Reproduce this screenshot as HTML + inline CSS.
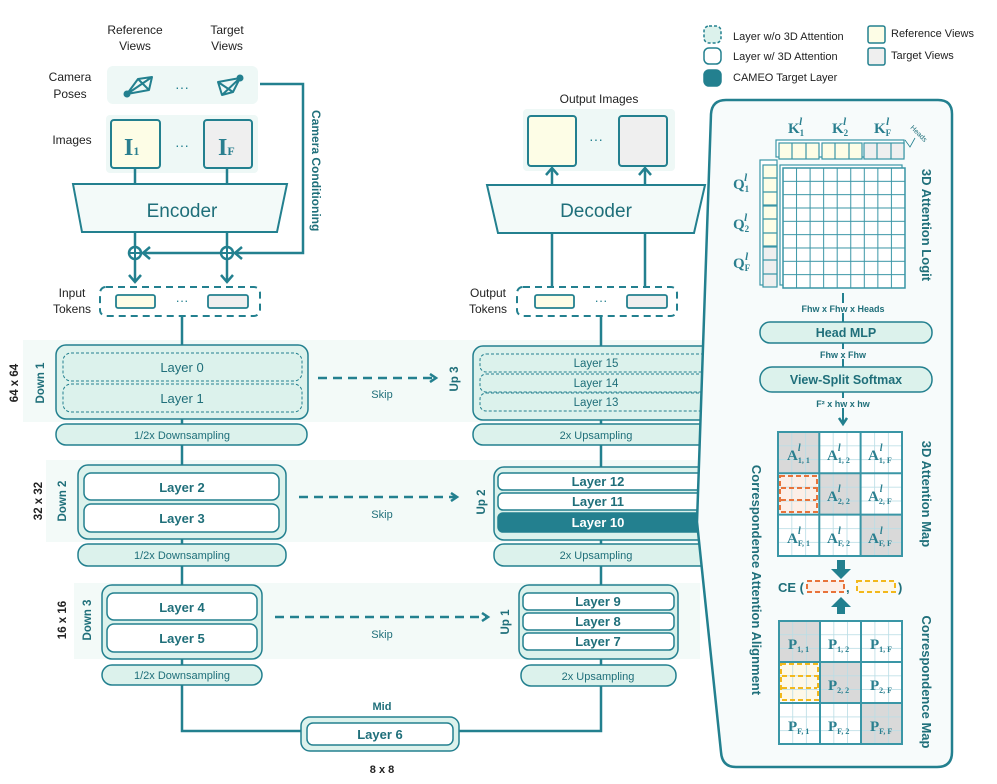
<!DOCTYPE html>
<html><head><meta charset="utf-8"><style>
html,body{margin:0;padding:0;background:#fff}
svg{display:block}
text{font-family:"Liberation Sans",sans-serif}
.t{fill:#1f6f7a}
.k{fill:#222}
.b{font-weight:bold}
text.s,.s text{font-family:"Liberation Serif",serif;font-weight:bold;fill:#2a7f8f}
</style></head><body>
<svg width="997" height="784" viewBox="0 0 997 784" xmlns="http://www.w3.org/2000/svg">
<defs>
<pattern id="g9" x="783" y="168" width="13.55" height="13.33" patternUnits="userSpaceOnUse">
<rect width="13.55" height="13.33" fill="#fff" stroke="#3a96a6" stroke-width="1"/></pattern>
<pattern id="sg" x="778" y="432" width="13.8" height="13.8" patternUnits="userSpaceOnUse">
<rect width="13.8" height="13.8" fill="none" stroke="#b9dde6" stroke-width="0.8"/></pattern>
<pattern id="sg2" x="779" y="621" width="13.7" height="13.7" patternUnits="userSpaceOnUse">
<rect width="13.7" height="13.7" fill="none" stroke="#b9dde6" stroke-width="0.8"/></pattern>
<marker id="ah" markerWidth="10" markerHeight="10" refX="7" refY="5" orient="auto" markerUnits="userSpaceOnUse">
<path d="M1,1 L7,5 L1,9" fill="none" stroke="#23808f" stroke-width="2.5"/></marker>
</defs>
<g stroke="#23808f" stroke-width="2.5" fill="none">
<rect x="704" y="26" width="17" height="17" rx="5" fill="#dcf2ec" stroke-dasharray="3,2" stroke-width="1.5"/>
<rect x="704" y="48" width="17" height="16" rx="5" fill="#fff" stroke-width="1.5"/>
<rect x="704" y="70" width="17" height="16" rx="5" fill="#23808f" stroke-width="1.5"/>
<rect x="868" y="26" width="17" height="17" rx="2" fill="#fdfde6" stroke-width="1.5"/>
<rect x="868" y="48" width="17" height="17" rx="2" fill="#efefef" stroke-width="1.5"/>
</g>
<g font-size="11" class="k">
<text x="733" y="40">Layer w/o 3D Attention</text>
<text x="733" y="60">Layer w/ 3D Attention</text>
<text x="733" y="81">CAMEO Target Layer</text>
<text x="891" y="37">Reference Views</text>
<text x="891" y="59">Target Views</text>
</g>

<g font-size="12" class="k" text-anchor="middle">
<text x="135" y="34">Reference</text><text x="135" y="50">Views</text>
<text x="227" y="34">Target</text><text x="227" y="50">Views</text>
<text x="70" y="81">Camera</text><text x="70" y="98">Poses</text>
<text x="72" y="144">Images</text>
<text x="72" y="297">Input</text><text x="72" y="313">Tokens</text>
<text x="488" y="297">Output</text><text x="488" y="313">Tokens</text>
<text x="599" y="103">Output Images</text>
</g>
<rect x="107" y="66" width="151" height="38" rx="6" fill="#eef8f6"/>
<rect x="106" y="115" width="152" height="58" rx="4" fill="#eef8f6"/>
<rect x="523" y="109" width="152" height="62" rx="4" fill="#eef8f6"/>
<g stroke="#23808f" stroke-width="2" fill="none" stroke-linejoin="round">
<path d="M127,94 L138,79 L152,77 L149,90 Z M127,94 L152,77 M127,94 L149,90 M138,79 L149,90"/>
<path d="M240,78 L218,82 L222,95 L233,92 Z M240,78 L222,95 M240,78 L233,92 M218,82 L233,92"/>
</g>
<circle cx="127" cy="94" r="3.5" fill="#23808f"/><circle cx="240" cy="78" r="3.5" fill="#23808f"/>
<text x="182" y="92" font-size="14" fill="#23808f" text-anchor="middle">···</text>
<text x="182" y="150" font-size="14" fill="#23808f" text-anchor="middle">···</text>
<text x="596" y="144" font-size="14" fill="#23808f" text-anchor="middle">···</text>
<text x="182" y="305" font-size="13" fill="#23808f" text-anchor="middle">···</text>
<text x="601" y="305" font-size="13" fill="#23808f" text-anchor="middle">···</text>

<g stroke="#23808f" stroke-width="2.5" fill="none">
<rect x="111" y="120" width="49" height="48" rx="3" fill="#fdfde6" stroke-width="2"/>
<rect x="204" y="120" width="48" height="48" rx="3" fill="#efefef" stroke-width="2"/>
<rect x="528" y="116" width="48" height="50" rx="3" fill="#fdfde6" stroke-width="2"/>
<rect x="619" y="116" width="48" height="50" rx="3" fill="#efefef" stroke-width="2"/>
<path d="M135,168 V184 M227,168 V184"/>
<path d="M73,184 H287 L277,232 H82 Z" fill="#f3faf9" stroke-width="2"/>
<path d="M487,185 H705 L694,233 H498 Z" fill="#f3faf9" stroke-width="2"/>
<path d="M135,232 V282"/><path d="M227,232 V282"/>
<path d="M129,275 L135,282 L141,275"/><path d="M221,275 L227,282 L233,275"/>
<path d="M260,84 H303 V253 H141"/>
<path d="M150,247 L143,253 L150,259"/><path d="M242,247 L235,253 L242,259"/>
<circle cx="135" cy="253" r="6" fill="#fff"/><path d="M129,253 H141 M135,247 V259" stroke-width="2"/>
<circle cx="227" cy="253" r="6" fill="#fff"/><path d="M221,253 H233 M227,247 V259" stroke-width="2"/>
<rect x="100" y="287" width="160" height="29" rx="6" stroke-dasharray="7,5" stroke-width="2"/>
<rect x="517" y="287" width="160" height="29" rx="6" stroke-dasharray="7,5" stroke-width="2"/>
<rect x="116" y="295" width="39" height="13" rx="2" fill="#fdfde6" stroke-width="1.8"/>
<rect x="208" y="295" width="40" height="13" rx="2" fill="#efefef" stroke-width="1.8"/>
<rect x="535" y="295" width="39" height="13" rx="2" fill="#fdfde6" stroke-width="1.8"/>
<rect x="627" y="295" width="40" height="13" rx="2" fill="#efefef" stroke-width="1.8"/>
<path d="M552,287 V233 M645,287 V233"/>
<path d="M552,185 V168"/><path d="M645,185 V168"/>
<path d="M546,175 L552,168 L558,175"/><path d="M639,175 L645,168 L651,175"/>
</g>
<text x="182" y="217" font-size="19" class="t" text-anchor="middle">Encoder</text>
<text x="596" y="217" font-size="19" class="t" text-anchor="middle">Decoder</text>
<text class="s" x="124" y="155" font-size="24">I<tspan font-size="12">1</tspan></text>
<text class="s" x="218" y="155" font-size="24">I<tspan font-size="12">F</tspan></text>
<text x="312" y="110" font-size="12" class="t b" transform="rotate(90 312 110)">Camera Conditioning</text>

<rect x="23" y="340" width="680" height="82" fill="#f3faf8"/>
<rect x="46" y="460" width="657" height="82" fill="#f3faf8"/>
<rect x="74" y="583" width="626" height="76" fill="#f3faf8"/>

<g stroke="#23808f" stroke-width="2.5" fill="none">
<path d="M182,316 V731 H301 M459,731 H601 V316"/>
<rect x="56" y="345" width="252" height="74" rx="10" fill="#dcf2ec" stroke-width="1.5"/>
<rect x="63" y="353" width="239" height="28" rx="8" stroke-dasharray="3,2" stroke-width="1"/>
<rect x="63" y="384" width="239" height="28" rx="8" stroke-dasharray="3,2" stroke-width="1"/>
<rect x="56" y="424" width="251" height="21" rx="10" fill="#dcf2ec" stroke-width="1.5"/>
<rect x="473" y="346" width="240" height="74" rx="10" fill="#dcf2ec" stroke-width="1.5"/>
<rect x="480" y="354" width="230" height="18" rx="6" stroke-dasharray="3,2" stroke-width="1"/>
<rect x="480" y="374" width="230" height="18" rx="6" stroke-dasharray="3,2" stroke-width="1"/>
<rect x="480" y="393" width="230" height="18" rx="6" stroke-dasharray="3,2" stroke-width="1"/>
<rect x="473" y="424" width="240" height="21" rx="10" fill="#dcf2ec" stroke-width="1.5"/>
<rect x="78" y="465" width="208" height="74" rx="10" fill="#dcf2ec" stroke-width="1.5"/>
<rect x="84" y="473" width="195" height="27" rx="7" fill="#fff" stroke-width="1.5"/>
<rect x="84" y="504" width="195" height="28" rx="7" fill="#fff" stroke-width="1.5"/>
<rect x="78" y="544" width="208" height="22" rx="10" fill="#dcf2ec" stroke-width="1.5"/>
<rect x="494" y="467" width="220" height="73" rx="10" fill="#dcf2ec" stroke-width="1.5"/>
<rect x="498" y="473" width="210" height="17" rx="5" fill="#fff" stroke-width="1.5"/>
<rect x="498" y="493" width="210" height="17" rx="5" fill="#fff" stroke-width="1.5"/>
<rect x="498" y="513" width="210" height="19" rx="5" fill="#23808f" stroke-width="1.5"/>
<rect x="494" y="544" width="220" height="22" rx="10" fill="#dcf2ec" stroke-width="1.5"/>
<rect x="102" y="585" width="160" height="74" rx="10" fill="#dcf2ec" stroke-width="1.5"/>
<rect x="107" y="593" width="150" height="27" rx="7" fill="#fff" stroke-width="1.5"/>
<rect x="107" y="624" width="150" height="28" rx="7" fill="#fff" stroke-width="1.5"/>
<rect x="102" y="665" width="160" height="20" rx="10" fill="#dcf2ec" stroke-width="1.5"/>
<rect x="519" y="585" width="159" height="74" rx="10" fill="#dcf2ec" stroke-width="1.5"/>
<rect x="523" y="593" width="151" height="17" rx="5" fill="#fff" stroke-width="1.5"/>
<rect x="523" y="613" width="151" height="17" rx="5" fill="#fff" stroke-width="1.5"/>
<rect x="523" y="633" width="151" height="17" rx="5" fill="#fff" stroke-width="1.5"/>
<rect x="521" y="665" width="155" height="21" rx="10" fill="#dcf2ec" stroke-width="1.5"/>
<rect x="301" y="717" width="158" height="34" rx="9" fill="#dcf2ec" stroke-width="1.5"/>
<rect x="307" y="723" width="146" height="22" rx="6" fill="#fff" stroke-width="1.5"/>
<path d="M318,378 H436" stroke-dasharray="9,6" marker-end="url(#ah)"/>
<path d="M299,497 H457" stroke-dasharray="9,6" marker-end="url(#ah)"/>
<path d="M275,617 H488" stroke-dasharray="9,6" marker-end="url(#ah)"/>
</g>
<g font-size="13" class="t" text-anchor="middle">
<text x="182" y="372">Layer 0</text><text x="182" y="403">Layer 1</text>
<text x="596" y="367" font-size="11.5">Layer 15</text><text x="596" y="387" font-size="11.5">Layer 14</text><text x="596" y="406" font-size="11.5">Layer 13</text>
<text x="182" y="439" font-size="11">1/2x Downsampling</text>
<text x="596" y="439" font-size="11">2x Upsampling</text>
<text x="182" y="559" font-size="11">1/2x Downsampling</text>
<text x="596" y="559" font-size="11">2x Upsampling</text>
<text x="182" y="679" font-size="11">1/2x Downsampling</text>
<text x="598" y="680" font-size="11">2x Upsampling</text>
<text x="382" y="398" font-size="11">Skip</text><text x="382" y="518" font-size="11">Skip</text><text x="382" y="638" font-size="11">Skip</text>
<text x="382" y="710" font-size="11" class="b">Mid</text>
</g>
<g font-size="13" class="t b" text-anchor="middle">
<text x="182" y="492">Layer 2</text><text x="182" y="523">Layer 3</text>
<text x="598" y="486">Layer 12</text><text x="598" y="506">Layer 11</text>
<text x="598" y="527" fill="#fff">Layer 10</text>
<text x="182" y="612">Layer 4</text><text x="182" y="643">Layer 5</text>
<text x="598" y="606">Layer 9</text><text x="598" y="626">Layer 8</text><text x="598" y="646">Layer 7</text>
<text x="380" y="739">Layer 6</text>
</g>
<text x="382" y="773" font-size="11" class="k b" text-anchor="middle">8 x 8</text>
<g font-size="11.5" class="b">
<text class="t" text-anchor="middle" transform="translate(44,383) rotate(-90)">Down 1</text>
<text class="k" text-anchor="middle" transform="translate(18,383) rotate(-90)">64 x 64</text>
<text class="t" text-anchor="middle" transform="translate(458,379) rotate(-90)">Up 3</text>
<text class="t" text-anchor="middle" transform="translate(66,501) rotate(-90)">Down 2</text>
<text class="k" text-anchor="middle" transform="translate(42,501) rotate(-90)">32 x 32</text>
<text class="t" text-anchor="middle" transform="translate(485,502) rotate(-90)">Up 2</text>
<text class="t" text-anchor="middle" transform="translate(91,620) rotate(-90)">Down 3</text>
<text class="k" text-anchor="middle" transform="translate(66,620) rotate(-90)">16 x 16</text>
<text class="t" text-anchor="middle" transform="translate(509,622) rotate(-90)">Up 1</text>
</g>

<path d="M737,100 H938 Q952,100 952,114 V752 Q952,767 937,767 H736 Q722,767 721,752 L697,522 L711,114 Q712,100 726,100 Z" fill="#f7fbfb" stroke="#23808f" stroke-width="2.5"/>
<g class="s" font-size="15">
<text x="788" y="133">K<tspan font-size="9" dy="3">1</tspan><tspan font-size="11" dx="-5" dy="-11" font-style="italic">l</tspan></text>
<text x="832" y="133">K<tspan font-size="9" dy="3">2</tspan><tspan font-size="11" dx="-5" dy="-11" font-style="italic">l</tspan></text>
<text x="874" y="133">K<tspan font-size="9" dy="3">F</tspan><tspan font-size="11" dx="-5" dy="-11" font-style="italic">l</tspan></text>
<text x="733" y="189">Q<tspan font-size="9" dy="3">1</tspan><tspan font-size="11" dx="-5" dy="-11" font-style="italic">l</tspan></text>
<text x="733" y="229">Q<tspan font-size="9" dy="3">2</tspan><tspan font-size="11" dx="-5" dy="-11" font-style="italic">l</tspan></text>
<text x="733" y="268">Q<tspan font-size="9" dy="3">F</tspan><tspan font-size="11" dx="-5" dy="-11" font-style="italic">l</tspan></text>
</g>
<text x="910" y="128" font-size="7" class="t" transform="rotate(45 910 128)">Heads</text>
<path d="M905,140 L910,147 L915,138" stroke="#23808f" fill="none" stroke-width="0.8"/>
<g stroke="#3a96a6" stroke-width="1.2">
<rect x="776" y="140" width="128" height="17" fill="#fff"/>
<rect x="760" y="160" width="17" height="125" fill="#fff"/>
<rect x="779" y="143" width="40" height="16" fill="#fdfde6"/>
<rect x="822" y="143" width="40" height="16" fill="#fdfde6"/>
<rect x="864" y="143" width="40" height="16" fill="#efefef"/>
<path d="M792,143 V159 M806,143 V159 M835,143 V159 M849,143 V159 M877,143 V159 M891,143 V159"/>
<rect x="763" y="165" width="14" height="40" fill="#fdfde6"/>
<rect x="763" y="206" width="14" height="40" fill="#fdfde6"/>
<rect x="763" y="247" width="14" height="40" fill="#efefef"/>
<path d="M763,178 H777 M763,192 H777 M763,219 H777 M763,233 H777 M763,260 H777 M763,274 H777"/>
<rect x="780" y="165" width="122" height="120" fill="#fff"/>
<rect x="783" y="168" width="122" height="120" fill="url(#g9)" stroke-width="1.5"/>
</g>
<text x="922" y="225" font-size="13" class="t b" text-anchor="middle" transform="rotate(90 922 225)">3D Attention Logit</text>
<g stroke="#23808f" stroke-width="2">
<path d="M843,293 V322 M843,343 V367"/>
<path d="M843,392 V424" marker-end="url(#ah)"/>
</g>
<rect x="760" y="322" width="172" height="21" rx="10" fill="#dcf2ec" stroke="#23808f" stroke-width="1.5"/>
<rect x="760" y="367" width="172" height="25" rx="12" fill="#dcf2ec" stroke="#23808f" stroke-width="1.5"/>
<g font-size="9" class="t b" text-anchor="middle">
<rect x="790" y="303" width="106" height="10" fill="#f7fbfb"/>
<text x="843" y="312">Fhw x Fhw x Heads</text>
<rect x="815" y="349" width="56" height="10" fill="#f7fbfb"/>
<text x="843" y="358">Fhw x Fhw</text>
<rect x="810" y="398" width="66" height="10" fill="#f7fbfb"/>
<text x="843" y="407">F² x hw x hw</text>
</g>
<text x="846" y="337" font-size="12.5" class="t b" text-anchor="middle">Head MLP</text>
<text x="846" y="384" font-size="12.5" class="t b" text-anchor="middle">View-Split Softmax</text>

<rect x="778" y="432" width="124" height="124" fill="#fff"/>
<rect x="778" y="432" width="41.3" height="41.3" fill="#d9d9d9"/>
<rect x="819.3" y="473.3" width="41.3" height="41.3" fill="#d9d9d9"/>
<rect x="860.6" y="514.6" width="41.4" height="41.4" fill="#d9d9d9"/>
<rect x="779" y="475" width="38" height="38" fill="#fcefe8"/>
<rect x="778" y="432" width="124" height="124" fill="url(#sg)"/>
<g stroke="#e8733a" stroke-width="2" fill="none" stroke-dasharray="5,3">
<rect x="780" y="476" width="37" height="36"/><path d="M781,488 H816 M781,500 H816"/>
</g>
<g stroke="#3a96a6" stroke-width="2" fill="none">
<rect x="778" y="432" width="124" height="124"/><path d="M819.3,432 V556 M860.6,432 V556 M778,473.3 H902 M778,514.6 H902"/>
</g>
<rect x="779" y="621" width="123" height="123" fill="#fff"/>
<rect x="779" y="621" width="41" height="41" fill="#d9d9d9"/>
<rect x="820" y="662" width="41" height="41" fill="#d9d9d9"/>
<rect x="861" y="703" width="41" height="41" fill="#d9d9d9"/>
<rect x="780" y="663" width="38" height="38" fill="#fdf8e8"/>
<rect x="779" y="621" width="123" height="123" fill="url(#sg2)"/>
<g stroke="#f2b81c" stroke-width="2" fill="none" stroke-dasharray="5,3">
<rect x="781" y="664" width="37" height="36"/><path d="M782,676 H817 M782,688 H817"/>
</g>
<g stroke="#3a96a6" stroke-width="2" fill="none">
<rect x="779" y="621" width="123" height="123"/><path d="M820,621 V744 M861,621 V744 M779,662 H902 M779,703 H902"/>
</g>
<g class="s" font-size="15">
<text x="787" y="460">A<tspan font-size="8" dy="3">1, 1</tspan><tspan font-size="10" dx="-12" dy="-12" font-style="italic">l</tspan></text>
<text x="827" y="460">A<tspan font-size="8" dy="3">1, 2</tspan><tspan font-size="10" dx="-12" dy="-12" font-style="italic">l</tspan></text>
<text x="868" y="460">A<tspan font-size="8" dy="3">1, F</tspan><tspan font-size="10" dx="-12" dy="-12" font-style="italic">l</tspan></text>
<text x="827" y="501">A<tspan font-size="8" dy="3">2, 2</tspan><tspan font-size="10" dx="-12" dy="-12" font-style="italic">l</tspan></text>
<text x="868" y="501">A<tspan font-size="8" dy="3">2, F</tspan><tspan font-size="10" dx="-12" dy="-12" font-style="italic">l</tspan></text>
<text x="787" y="543">A<tspan font-size="8" dy="3">F, 1</tspan><tspan font-size="10" dx="-12" dy="-12" font-style="italic">l</tspan></text>
<text x="827" y="543">A<tspan font-size="8" dy="3">F, 2</tspan><tspan font-size="10" dx="-12" dy="-12" font-style="italic">l</tspan></text>
<text x="868" y="543">A<tspan font-size="8" dy="3">F, F</tspan><tspan font-size="10" dx="-12" dy="-12" font-style="italic">l</tspan></text>
<text x="788" y="649">P<tspan font-size="8" dy="3">1, 1</tspan></text>
<text x="828" y="649">P<tspan font-size="8" dy="3">1, 2</tspan></text>
<text x="870" y="649">P<tspan font-size="8" dy="3">1, F</tspan></text>
<text x="828" y="690">P<tspan font-size="8" dy="3">2, 2</tspan></text>
<text x="870" y="690">P<tspan font-size="8" dy="3">2, F</tspan></text>
<text x="788" y="731">P<tspan font-size="8" dy="3">F, 1</tspan></text>
<text x="828" y="731">P<tspan font-size="8" dy="3">F, 2</tspan></text>
<text x="870" y="731">P<tspan font-size="8" dy="3">F, F</tspan></text>
</g>
<path d="M837,560 H845 V569 H851 L841,579 L831,569 H837 Z" fill="#23808f"/>
<path d="M841,597 L851,607 H845 V614 H837 V607 H831 Z" fill="#23808f"/>
<text x="778" y="592" font-size="13" class="t b">CE (</text>
<rect x="807" y="581" width="37" height="11" fill="#fcefe8" stroke="#e8733a" stroke-width="2" stroke-dasharray="5,3"/>
<text x="846" y="592" font-size="13" class="t b">,</text>
<rect x="857" y="581" width="38" height="11" fill="#fdf8e8" stroke="#f2b81c" stroke-width="2" stroke-dasharray="5,3"/>
<text x="898" y="592" font-size="13" class="t b">)</text>
<text x="922" y="494" font-size="13" class="t b" text-anchor="middle" transform="rotate(90 922 494)">3D Attention Map</text>
<text x="922" y="682" font-size="13" class="t b" text-anchor="middle" transform="rotate(90 922 682)">Correspondence Map</text>
<text x="752" y="580" font-size="13" class="t b" text-anchor="middle" transform="rotate(90 752 580)">Correspondence Attention Alignment</text>
</svg>
</body></html>
